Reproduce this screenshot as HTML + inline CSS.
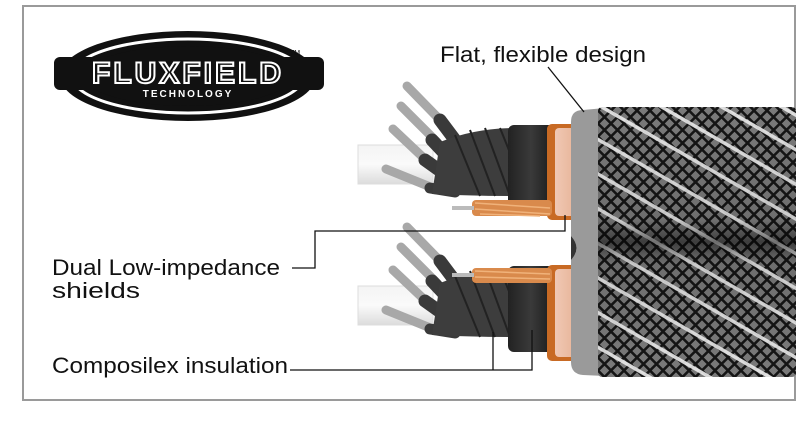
<!DOCTYPE html>
<html><head><meta charset="utf-8"><style>
html,body{margin:0;padding:0;background:#fff;width:800px;height:425px;overflow:hidden}
svg{display:block}
text{font-family:"Liberation Sans",Arial,sans-serif}
</style></head><body>
<svg width="800" height="425" viewBox="0 0 800 425" xmlns="http://www.w3.org/2000/svg">
<defs>
<pattern id="mesh" width="13" height="13" patternUnits="userSpaceOnUse">
<rect width="13" height="13" fill="#7a7a7a"/>
<path d="M0 6.5 L6.5 0 L13 6.5 L6.5 13 Z" fill="none" stroke="#151515" stroke-width="2.6"/>
</pattern>
<pattern id="whites" width="40" height="30" patternUnits="userSpaceOnUse" patternTransform="rotate(30)">
<rect x="0" y="0" width="40" height="3.5" fill="#eeeeee"/>
</pattern>
<linearGradient id="braidShade" x1="0" y1="0" x2="0" y2="1">
<stop offset="0" stop-color="#000" stop-opacity="0"/>
<stop offset="0.42" stop-color="#000" stop-opacity="0.1"/>
<stop offset="0.5" stop-color="#000" stop-opacity="0.5"/>
<stop offset="0.58" stop-color="#000" stop-opacity="0.1"/>
<stop offset="1" stop-color="#000" stop-opacity="0"/>
</linearGradient>
<linearGradient id="wcyl" x1="0" y1="0" x2="0" y2="1">
<stop offset="0" stop-color="#f4f4f4"/><stop offset="0.5" stop-color="#fafafa"/><stop offset="1" stop-color="#dcdcdc"/>
</linearGradient>
<linearGradient id="sleeve" x1="0" y1="0" x2="1" y2="0">
<stop offset="0" stop-color="#222"/><stop offset="0.5" stop-color="#3a3a3a"/><stop offset="1" stop-color="#1a1a1a"/>
</linearGradient>
<linearGradient id="pale" x1="0" y1="0" x2="1" y2="0">
<stop offset="0" stop-color="#f0c8b4"/><stop offset="1" stop-color="#e2a888"/>
</linearGradient>
<g id="grp">
<rect x="358" y="145" width="75" height="39" fill="url(#wcyl)" stroke="#ddd" stroke-width="1"/>
<g stroke-linecap="round">
<line x1="407" y1="86" x2="445" y2="125" stroke="#a8a8a8" stroke-width="9"/>
<line x1="401" y1="106" x2="437" y2="142" stroke="#a8a8a8" stroke-width="9"/>
<line x1="393" y1="129" x2="428" y2="162" stroke="#a8a8a8" stroke-width="9"/>
<line x1="386" y1="169" x2="428" y2="186" stroke="#a8a8a8" stroke-width="9"/>
<line x1="440" y1="120" x2="470" y2="160" stroke="#3a3a3a" stroke-width="13"/>
<line x1="432" y1="140" x2="465" y2="175" stroke="#3a3a3a" stroke-width="13"/>
<line x1="425" y1="160" x2="460" y2="185" stroke="#3a3a3a" stroke-width="13"/>
<line x1="430" y1="188" x2="455" y2="192" stroke="#3a3a3a" stroke-width="11"/>
</g>
<path d="M440 142 Q475 128 515 128 L515 196 Q470 196 432 194 Z" fill="#3d3d3d"/>
<g stroke="#222" stroke-width="2" fill="none">
<path d="M455 135 L480 196"/><path d="M470 130 L495 196"/><path d="M485 128 L510 196"/><path d="M500 128 L515 165"/>
</g>
<rect x="508" y="125" width="46" height="86" rx="6" fill="url(#sleeve)"/>
<rect x="547" y="124" width="44" height="96" rx="5" fill="#c86a24"/>
<rect x="555" y="128" width="33" height="88" rx="4" fill="url(#pale)"/>
</g>
</defs>

<rect x="23" y="6" width="772" height="394" fill="#fff" stroke="#9a9a9a" stroke-width="2"/>

<g>
<ellipse cx="188" cy="76" rx="128" ry="45" fill="#111"/>
<ellipse cx="188" cy="76" rx="116" ry="37" fill="none" stroke="#fff" stroke-width="3"/>
<ellipse cx="188" cy="76" rx="104" ry="30" fill="#111"/>
<rect x="54" y="57" width="270" height="33" rx="6" fill="#111"/>
<text x="188" y="83" text-anchor="middle" font-size="30" font-weight="bold" fill="none" stroke="#fff" stroke-width="2" letter-spacing="3">FLUXFIELD</text>
<text x="188" y="97" text-anchor="middle" font-size="10" font-weight="bold" fill="#fff" letter-spacing="2">TECHNOLOGY</text>
<text x="290" y="55" font-size="7" fill="#111">TM</text>
</g>

<use href="#grp"/>
<use href="#grp" transform="translate(0,141)"/>
<g>
<rect x="472" y="200" width="80" height="16" rx="4" fill="#d98a4c"/>
<path d="M475 203 L550 208 M475 209 L550 214 M480 214 L540 216" stroke="#f0b27a" stroke-width="1.5"/>
<rect x="452" y="206" width="22" height="4" fill="#bbb"/>
<rect x="472" y="268" width="80" height="15" rx="4" fill="#d98a4c"/>
<path d="M475 271 L550 274 M475 277 L550 279" stroke="#f0b27a" stroke-width="1.5"/>
<rect x="452" y="273" width="22" height="4" fill="#bbb"/>
</g>

<path d="M583 110 L605 108 L605 376 L583 375 Q571 374 571 362 L571 260 Q582 248 571 236 L571 122 Q571 110 583 110 Z" fill="#9a9a9a"/>
<path d="M571 236 Q582 248 571 260 Z" fill="#333"/>
<rect x="598" y="107" width="198" height="270" rx="4" fill="url(#mesh)"/>
<rect x="598" y="107" width="198" height="270" fill="url(#whites)" opacity="0.9"/>
<rect x="598" y="107" width="198" height="270" fill="url(#braidShade)"/>

<text x="440" y="62" font-size="22" fill="#111" textLength="206" lengthAdjust="spacingAndGlyphs">Flat, flexible design</text>
<line x1="548" y1="67" x2="584" y2="112" stroke="#111" stroke-width="1.3"/>
<text x="52" y="275" font-size="22" fill="#111" textLength="228" lengthAdjust="spacingAndGlyphs">Dual Low-impedance</text>
<text x="52" y="298" font-size="22" fill="#111" textLength="88" lengthAdjust="spacingAndGlyphs">shields</text>
<path d="M292 268 H315 V231 H565 V215" fill="none" stroke="#111" stroke-width="1.3"/>
<text x="52" y="373" font-size="22" fill="#111" textLength="236" lengthAdjust="spacingAndGlyphs">Composilex insulation</text>
<path d="M290 370 H532 V330 M493 370 V332" fill="none" stroke="#111" stroke-width="1.3"/>
</svg>
</body></html>
